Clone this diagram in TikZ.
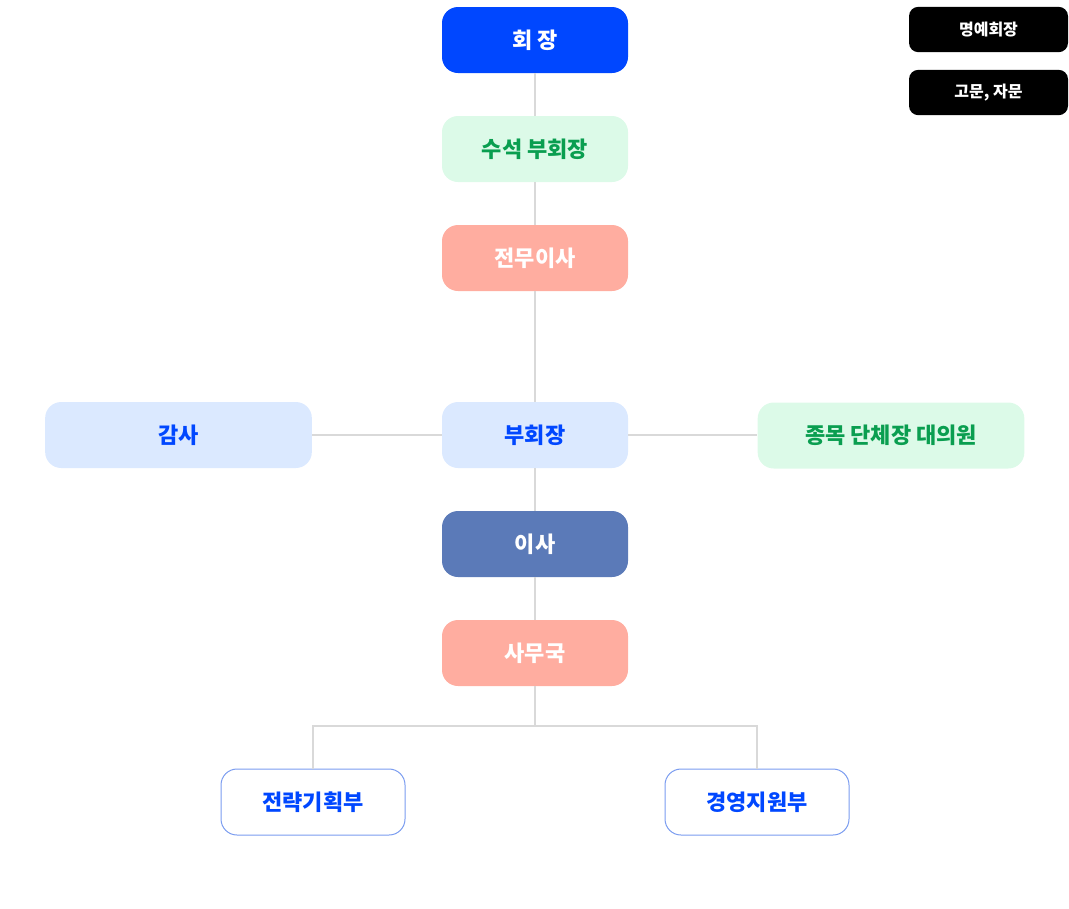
\documentclass[tikz,border=0pt]{standalone}
\usepackage{fontspec}
\setmainfont{Noto Sans CJK KR}
\definecolor{cblue}{RGB}{0,71,255}
\definecolor{mint}{RGB}{220,250,232}
\definecolor{mintfg}{RGB}{10,158,80}
\definecolor{salmon}{RGB}{255,173,160}
\definecolor{paleblue}{RGB}{219,233,255}
\definecolor{slate}{RGB}{91,122,184}
\definecolor{edgeblue}{RGB}{122,156,240}
\definecolor{linegray}{RGB}{217,217,217}
\tikzset{
  box/.style={rounded corners=12pt, minimum height=49.5pt, inner sep=0pt, font=\bfseries\fontsize{16.5}{19}\selectfont},
  mainbox/.style={box, minimum width=139.5pt},
  widebox/.style={box, minimum width=200pt},
  smallbox/.style={rounded corners=7pt, minimum width=119.25pt, minimum height=34pt, inner sep=0pt, fill=black, text=white, font=\bfseries\fontsize{12}{14}\selectfont},
  conn/.style={draw=linegray, line width=1.5pt},
}
\begin{document}
\begin{tikzpicture}[x=0.75pt,y=-0.75pt]
\useasboundingbox (0,0) rectangle (1069,908);
\node[mainbox, fill=cblue, text=white] (chair) at (535,40) {회 장};
\node[mainbox, fill=mint, text=mintfg] (svp) at (535,149) {수석 부회장};
\node[mainbox, fill=salmon, text=white] (exec) at (535,258) {전무이사};
\node[mainbox, fill=paleblue, text=cblue] (vp) at (535,435) {부회장};
\node[widebox, fill=paleblue, text=cblue] (audit) at (178.5,435) {감사};
\node[widebox, fill=mint, text=mintfg] (rep) at (891,435.5) {종목 단체장 대의원};
\node[mainbox, fill=slate, text=white] (dir) at (535,544) {이사};
\node[mainbox, fill=salmon, text=white] (office) at (535,653) {사무국};
\node[box, minimum width=138pt, fill=white, draw=edgeblue, line width=0.75pt, text=cblue] (plan) at (313,802) {전략기획부};
\node[box, minimum width=138pt, fill=white, draw=edgeblue, line width=0.75pt, text=cblue] (mgmt) at (757,802) {경영지원부};
\node[smallbox] (hon) at (988.5,29.5) {명예회장};
\node[smallbox] (adv) at (988.5,92.5) {고문, 자문};
\coordinate (br) at (535,726);
\draw[conn] (chair.south) -- (svp.north);
\draw[conn] (svp.south) -- (exec.north);
\draw[conn] (exec.south) -- (vp.north);
\draw[conn] (vp.south) -- (dir.north);
\draw[conn] (dir.south) -- (office.north);
\draw[conn] (audit.east) -- (vp.west);
\draw[conn] (vp.east) -- (vp.east -| rep.west);
\draw[conn] (office.south) -- (br);
\draw[conn] (br) -| (plan.north);
\draw[conn] (br) -| (mgmt.north);
\end{tikzpicture}
\end{document}
